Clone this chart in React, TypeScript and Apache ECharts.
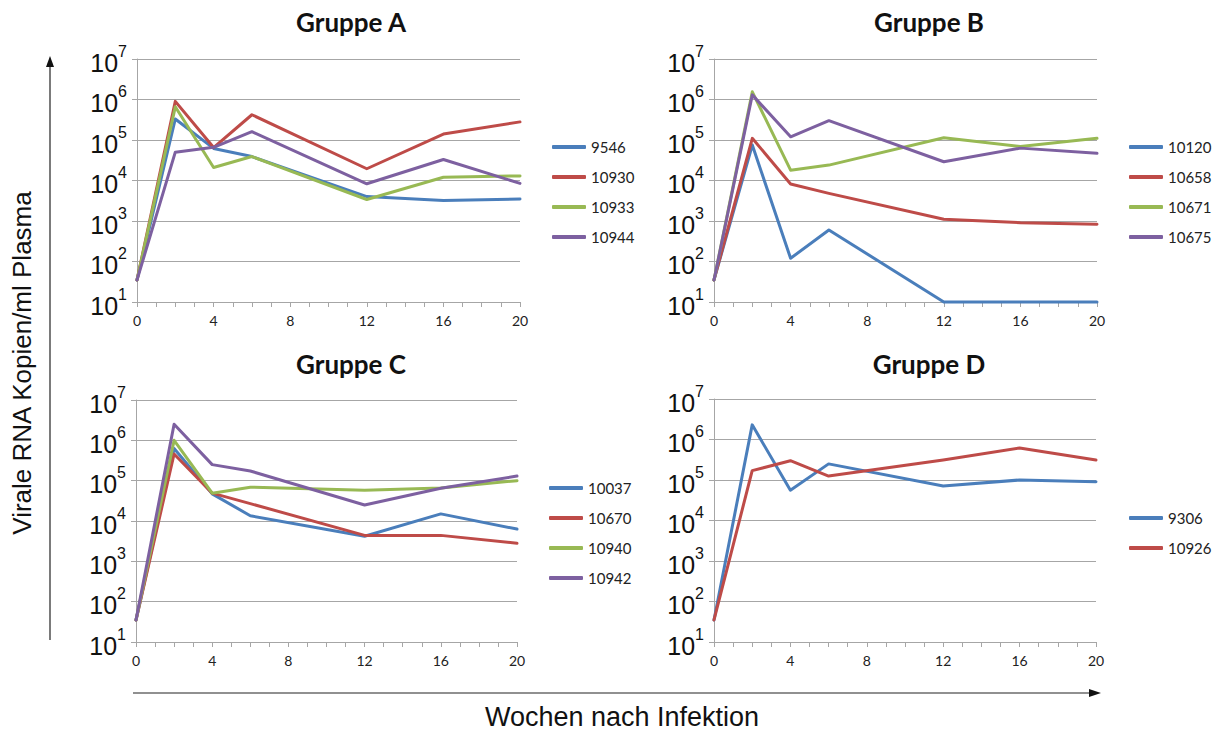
import React, { useEffect, useRef } from "react";
import * as echarts from "echarts";

const weeks = [0, 2, 4, 6, 12, 16, 20];
const xTicks = [0, 4, 8, 12, 16, 20];

const groupTitles = ["Gruppe A", "Gruppe B", "Gruppe C", "Gruppe D"];

const groupANames = ["9546", "10930", "10933", "10944"];
const A_9546 = [35, 3.3e5, 6.2e4, 3.9e4, 4.0e3, 3.2e3, 3.5e3];
const A_10930 = [35, 9.0e5, 6.5e4, 4.2e5, 1.95e4, 1.4e5, 2.8e5];
const A_10933 = [35, 6.6e5, 2.1e4, 3.9e4, 3.4e3, 1.2e4, 1.3e4];
const A_10944 = [35, 5.0e4, 6.6e4, 1.6e5, 8.3e3, 3.3e4, 8.5e3];

const groupBNames = ["10120", "10658", "10671", "10675"];
const B_10120 = [35, 7.5e4, 120, 600, 10, 10, 10];
const B_10658 = [35, 1.1e5, 8.2e3, 4.8e3, 1.1e3, 910, 830];
const B_10671 = [35, 1.55e6, 1.8e4, 2.4e4, 1.14e5, 6.9e4, 1.1e5];
const B_10675 = [35, 1.3e6, 1.2e5, 3.0e5, 2.9e4, 6.3e4, 4.7e4];

const groupCNames = ["10037", "10670", "10940", "10942"];
const C_10037 = [35, 6.3e5, 4.7e4, 1.35e4, 4.2e3, 1.5e4, 6.3e3];
const C_10670 = [35, 4.6e5, 4.9e4, 2.7e4, 4.4e3, 4.4e3, 2.8e3];
const C_10940 = [35, 1.0e6, 4.9e4, 6.9e4, 5.8e4, 6.6e4, 1.0e5];
const C_10942 = [35, 2.5e6, 2.5e5, 1.74e5, 2.5e4, 6.5e4, 1.3e5];

const groupDNames = ["9306", "10926"];
const D_9306 = [35, 2.3e6, 5.6e4, 2.5e5, 7.1e4, 1.0e5, 9.1e4];
const D_10926 = [35, 1.7e5, 3.0e5, 1.25e5, 3.1e5, 6.2e5, 3.1e5];

const yTitle = "Virale RNA Kopien/ml Plasma";
const xTitle = "Wochen nach Infektion";

const colors = ["#4a7ebb", "#be4b48", "#98b954", "#7d60a0"];

const groups = [
  { names: groupANames, values: [A_9546, A_10930, A_10933, A_10944] },
  { names: groupBNames, values: [B_10120, B_10658, B_10671, B_10675] },
  { names: groupCNames, values: [C_10037, C_10670, C_10940, C_10942] },
  { names: groupDNames, values: [D_9306, D_10926] },
];

const grids = [
  { left: 137, top: 59, width: 383, height: 243 },
  { left: 714, top: 59, width: 383, height: 243 },
  { left: 136, top: 400, width: 381, height: 242 },
  { left: 714, top: 399, width: 382, height: 243 },
];

const legendPos = [
  { left: 552, top: 139 },
  { left: 1129, top: 139 },
  { left: 549, top: 480 },
  { left: 1129, top: 510 },
];

const titlePos = [
  { x: 351, y: 22 },
  { x: 929, y: 22 },
  { x: 351, y: 364 },
  { x: 929, y: 364 },
];

export default function App() {
  const ref = useRef<HTMLDivElement>(null);
  useEffect(() => {
    if (!ref.current) return;
    const chart = echarts.init(ref.current, null, { renderer: "svg" });
    const gray = "#a6a6a6";
    const xAxis: any[] = [];
    const yAxis: any[] = [];
    const series: any[] = [];
    const legend: any[] = [];
    groups.forEach((g, gi) => {
      xAxis.push({
        type: "value",
        gridIndex: gi,
        min: 0,
        max: 20,
        interval: 4,
        axisLine: { show: true, onZero: false, lineStyle: { color: gray, width: 1 } },
        axisTick: { show: true, length: 5, lineStyle: { color: gray } },
        minorTick: { show: true, splitNumber: 4, length: 5, lineStyle: { color: gray } },
        splitLine: { show: false },
        axisLabel: {
          color: "#222",
          fontSize: 14,
          fontFamily: "Lato",
          margin: 11,
          formatter: (v: number) => (xTicks.includes(v) ? String(v) : ""),
        },
      });
      yAxis.push({
        type: "log",
        logBase: 10,
        gridIndex: gi,
        min: 10,
        max: 1e7,
        axisLine: { show: true, lineStyle: { color: gray, width: 1 } },
        axisTick: { show: true, length: 5, lineStyle: { color: gray } },
        splitLine: { show: true, lineStyle: { color: gray, width: 1 } },
        axisLabel: {
          margin: 10,
          formatter: (v: number) => {
            const e = Math.round(Math.log10(v));
            return "{b|10}{s|" + e + "}";
          },
          rich: {
            b: { fontSize: 25, fontFamily: "Liberation Sans", color: "#111", lineHeight: 32, verticalAlign: "bottom" },
            s: { fontSize: 16, fontFamily: "Liberation Sans", color: "#111", lineHeight: 32, verticalAlign: "top" },
          },
        },
      });
      g.names.forEach((name, si) => {
        series.push({
          type: "line",
          name,
          xAxisIndex: gi,
          yAxisIndex: gi,
          data: weeks.map((w, i) => [w, g.values[si][i]]),
          showSymbol: false,
          symbol: "none",
          lineStyle: { width: 3, color: colors[si], cap: "round", join: "round" },
          itemStyle: { color: colors[si] },
          clip: false,
          z: 2,
        });
      });
      legend.push({
        data: g.names.map((n) => ({ name: n, icon: "roundRect" })),
        orient: "vertical",
        left: legendPos[gi].left,
        top: legendPos[gi].top,
        itemWidth: 34,
        itemHeight: 4,
        itemGap: 14,
        padding: 0,
        selectedMode: false,
        textStyle: { fontSize: 15, fontFamily: "Lato", color: "#222", lineHeight: 16 },
      });
    });

    const graphic: any[] = [];
    groupTitles.forEach((t, i) => {
      graphic.push({
        type: "text",
        x: titlePos[i].x,
        y: titlePos[i].y,
        style: {
          text: t,
          font: "bold 26px Lato",
          fill: "#111",
          textAlign: "center",
          verticalAlign: "middle",
        },
      });
    });
    graphic.push({
      type: "text",
      x: 22,
      y: 363,
      rotation: Math.PI / 2,
      style: {
        text: yTitle,
        font: "26px 'Liberation Sans'",
        fill: "#111",
        textAlign: "center",
        verticalAlign: "middle",
      },
    });
    graphic.push({
      type: "text",
      x: 622,
      y: 717,
      style: {
        text: xTitle,
        font: "27px 'Liberation Sans'",
        fill: "#111",
        textAlign: "center",
        verticalAlign: "middle",
      },
    });
    graphic.push({
      type: "line",
      shape: { x1: 50, y1: 640, x2: 50, y2: 64 },
      style: { stroke: "#222", lineWidth: 1.2 },
    });
    graphic.push({
      type: "polygon",
      shape: { points: [[46, 67], [54, 67], [50, 56]] },
      style: { fill: "#111" },
    });
    graphic.push({
      type: "line",
      shape: { x1: 133, y1: 693, x2: 1092, y2: 693 },
      style: { stroke: "#222", lineWidth: 1.2 },
    });
    graphic.push({
      type: "polygon",
      shape: { points: [[1089, 689], [1089, 697], [1101, 693]] },
      style: { fill: "#111" },
    });

    chart.setOption({
      animation: false,
      backgroundColor: "#fff",
      grid: grids.map((g) => ({ ...g, containLabel: false })),
      xAxis,
      yAxis,
      series,
      legend,
      graphic,
    });
    return () => chart.dispose();
  }, []);
  return (
    <div
      ref={ref}
      style={{ position: "fixed", left: 0, top: 0, width: 1215, height: 731 }}
    />
  );
}
